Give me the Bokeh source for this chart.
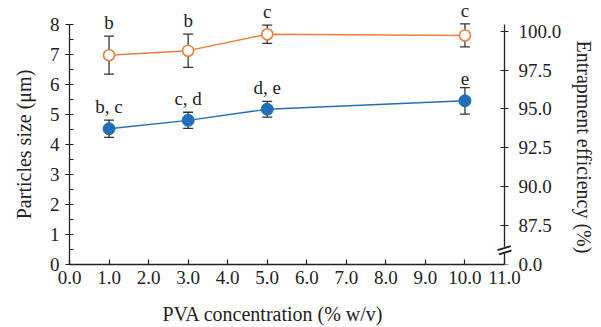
from bokeh.plotting import figure
from bokeh.models import (ColumnDataSource, Range1d, LinearAxis, FixedTicker,
                          NumeralTickFormatter, Whisker, TeeHead, LabelSet, Label)
from bokeh.embed import file_html
from bokeh.resources import INLINE

# ---- data ----
pva = [1.0, 3.0, 5.0, 10.0]
size_um = [4.52, 4.80, 5.17, 5.45]
size_err = [0.29, 0.27, 0.26, 0.44]
size_letters = ["b, c", "c, d", "d, e", "e"]
eff_pct = [98.46, 98.75, 99.81, 99.73]
eff_err = [1.22, 1.07, 0.59, 0.74]
eff_letters = ["b", "b", "c", "c"]
x_ticks = [0, 1, 2, 3, 4, 5, 6, 7, 8, 9, 10, 11]
x_max = 11
left_ticks = [0, 1, 2, 3, 4, 5, 6, 7, 8]
right_ticks = [85.0, 87.5, 90.0, 92.5, 95.0, 97.5, 100.0]
right_overrides = {85.0: "0.0"}
axis_break_at = 85.95  # position of the break mark on the efficiency scale

FONT = "Liberation Serif"
BLUE = "#1f6fba"
ORANGE = "#ee7d3b"
ERR = "#333333"
INK = "#222222"
NB = "\u00a0"  # non-breaking space used to nudge axis titles off-centre

p = figure(width=601, height=327, output_backend="svg", toolbar_location=None,
           x_range=Range1d(0, 11.177), y_range=Range1d(0, 8.657),
           min_border_left=69, min_border_right=90, min_border_top=4,
           min_border_bottom=59)
p.extra_y_ranges = {"eff": Range1d(85.0, 101.72)}
p.outline_line_color = None
p.xgrid.visible = False
p.ygrid.visible = False
p.background_fill_color = "white"
p.border_fill_color = "white"

def style_axis(ax):
    ax.axis_line_color = INK
    ax.axis_line_width = 1.3
    ax.major_tick_line_color = INK
    ax.minor_tick_line_color = INK
    ax.major_tick_line_width = 1.2
    ax.minor_tick_line_width = 1.2
    ax.major_label_text_font = FONT
    ax.major_label_text_font_size = "19px"
    ax.major_label_text_color = INK
    ax.axis_label_text_font = FONT
    ax.axis_label_text_font_size = "20px"
    ax.axis_label_text_font_style = "normal"
    ax.axis_label_text_color = INK

xa = p.xaxis[0]
style_axis(xa)
xa.bounds = (0, x_max)
xa.ticker = FixedTicker(ticks=x_ticks)
xa.formatter = NumeralTickFormatter(format="0.0")
xa.major_tick_in = 5
xa.major_tick_out = 0
xa.major_label_standoff = 6
xa.axis_label = "PVA concentration (% w/v)" + NB * 7
xa.axis_label_standoff = 16

ya = p.yaxis[0]
style_axis(ya)
ya.bounds = (0, 8)
ya.ticker = FixedTicker(ticks=left_ticks,
                        minor_ticks=[v + 0.5 for v in left_ticks[:-1]])
ya.major_tick_in = 4
ya.major_tick_out = 4
ya.minor_tick_in = 4
ya.minor_tick_out = 0
ya.major_label_standoff = 6
ya.axis_label = "Particles size (μm)" + NB * 4
ya.axis_label_standoff = 12

# right axis line + ticks, drawn at x = 11
ra = LinearAxis(y_range_name="eff", fixed_location=x_max)
style_axis(ra)
ra.bounds = (85.0, 100.45)
ra.ticker = FixedTicker(ticks=right_ticks)
ra.major_label_overrides = {t: "" for t in right_ticks}
ra.major_label_standoff = 0
ra.major_tick_in = 4
ra.major_tick_out = 4
ra.minor_tick_line_color = None
p.add_layout(ra, "right")

# right axis tick labels + title
rl = LinearAxis(y_range_name="eff")
style_axis(rl)
rl.axis_line_color = None
rl.major_tick_line_color = None
rl.minor_tick_line_color = None
rl.major_tick_in = 0
rl.major_tick_out = 0
rl.ticker = FixedTicker(ticks=right_ticks)
rl.formatter = NumeralTickFormatter(format="0.0")
rl.major_label_overrides = right_overrides
rl.major_label_standoff = 7
rl.axis_label = NB * 5 + "Entrapment efficiency (%)"
rl.axis_label_standoff = 9
p.add_layout(rl, "right")

# ---- sources ----
s_size = ColumnDataSource(dict(x=pva, y=size_um,
                               lo=[v - e for v, e in zip(size_um, size_err)],
                               hi=[v + e for v, e in zip(size_um, size_err)],
                               lab=size_letters))
s_eff = ColumnDataSource(dict(x=pva, y=eff_pct,
                              lo=[v - e for v, e in zip(eff_pct, eff_err)],
                              hi=[v + e for v, e in zip(eff_pct, eff_err)],
                              lab=eff_letters))

for src, rn in ((s_size, "default"), (s_eff, "eff")):
    w = Whisker(source=src, base="x", lower="lo", upper="hi",
                y_range_name=rn, line_color=ERR, line_width=1.3,
                upper_head=TeeHead(size=10, line_color=ERR, line_width=1.3),
                lower_head=TeeHead(size=10, line_color=ERR, line_width=1.3))
    w.level = "underlay"
    p.add_layout(w)

p.line("x", "y", source=s_size, line_color=BLUE, line_width=1.4)
p.scatter("x", "y", source=s_size, size=12, fill_color=BLUE, line_color=BLUE)
p.line("x", "y", source=s_eff, y_range_name="eff", line_color=ORANGE, line_width=1.4)
p.scatter("x", "y", source=s_eff, y_range_name="eff", size=11, fill_color="white",
          line_color=ORANGE, line_width=1.6)

for src, rn in ((s_size, "default"), (s_eff, "eff")):
    p.add_layout(LabelSet(x="x", y="hi", text="lab", source=src, y_range_name=rn,
                          text_align="center", text_baseline="bottom", y_offset=3,
                          text_font=FONT, text_font_size="19px", text_color=INK))

# ---- axis break on right axis: white gap + two slashes ----
gap = Label(x=x_max, y=axis_break_at, y_range_name="eff", text="MM",
            text_font_size="5px", text_color="white",
            background_fill_color="white", text_align="center",
            text_baseline="middle")
gap.level = "overlay"
p.add_layout(gap)
slashes = Label(x=x_max, y=axis_break_at, y_range_name="eff", text="=",
                text_font="DejaVu Sans", text_font_size="22px", text_color=INK,
                angle=0.3, text_align="center", text_baseline="middle")
slashes.level = "overlay"
p.add_layout(slashes)

open("out.html", "w").write(file_html(p, INLINE))
